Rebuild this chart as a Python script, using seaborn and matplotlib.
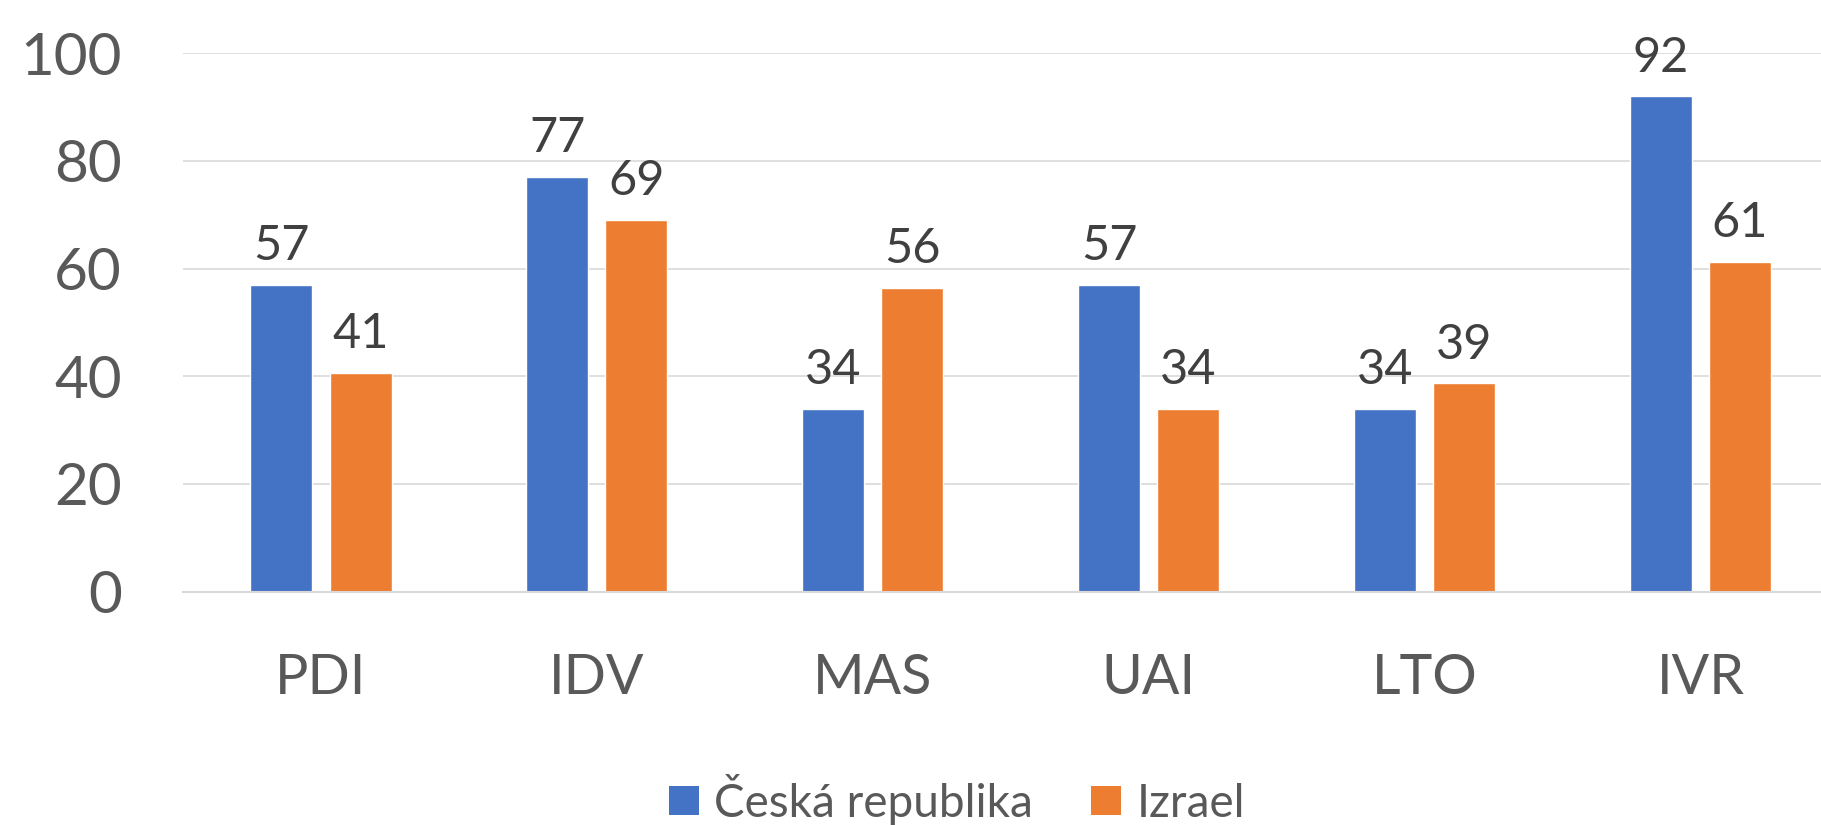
import matplotlib
matplotlib.use("Agg")
import matplotlib.pyplot as plt
import seaborn as sns
import pandas as pd
from matplotlib.patches import Patch

categories = ["PDI", "IDV", "MAS", "UAI", "LTO", "IVR"]
series_names = ["Česká republika", "Izrael"]
cz_values = [57, 77, 34, 57, 34, 92]
il_values = [40.6, 69, 56.4, 34, 38.7, 61.3]
colors = ["#4472C4", "#ED7D31"]
yticks = [0, 20, 40, 60, 80, 100]

df = pd.DataFrame({
    "cat": categories * 2,
    "series": [series_names[0]] * len(categories) + [series_names[1]] * len(categories),
    "value": cz_values + il_values,
})

sns.set_theme(style="white")
plt.rcParams["font.family"] = ["Lato", "DejaVu Sans"]

fig = plt.figure(figsize=(18.21, 8.25), dpi=100)
ax = fig.add_axes([0.1005, 0.283, 0.8995, 0.6524])

sns.barplot(data=df, x="cat", y="value", hue="series", order=categories,
            hue_order=series_names, palette=colors, width=0.574, gap=0.216,
            saturation=1, legend=False, ax=ax, errorbar=None)

for container in ax.containers:
    ax.bar_label(container, labels=[f"{v:.0f}" for v in container.datavalues],
                 padding=12, fontsize=35, color="#404040")

ax.set_ylim(0, 100)
ax.set_xlim(-0.5, 5.437)
ax.set_yticks(yticks)
ax.yaxis.grid(True, color="#d9d9d9", linewidth=1.2)
ax.set_axisbelow(True)
for s in ["top", "right", "left"]:
    ax.spines[s].set_visible(False)
ax.spines["bottom"].set_color("#d9d9d9")
ax.spines["bottom"].set_linewidth(1.5)
ax.tick_params(axis="y", length=0, pad=44, labelsize=42, labelcolor="#595959")
ax.tick_params(axis="x", length=0, pad=44, labelsize=40, labelcolor="#595959")
ax.set_xlabel("")
ax.set_ylabel("")

handles = [Patch(facecolor=c, edgecolor="none") for c in colors]
fig.legend(handles, series_names, loc="center", bbox_to_anchor=(0.5255, 0.031),
           ncol=2, frameon=False, fontsize=33, labelcolor="#595959",
           handlelength=0.66, handleheight=0.59, handletextpad=0.33,
           columnspacing=1.27, borderaxespad=0, borderpad=0)

fig.savefig("out.png", dpi=100)
